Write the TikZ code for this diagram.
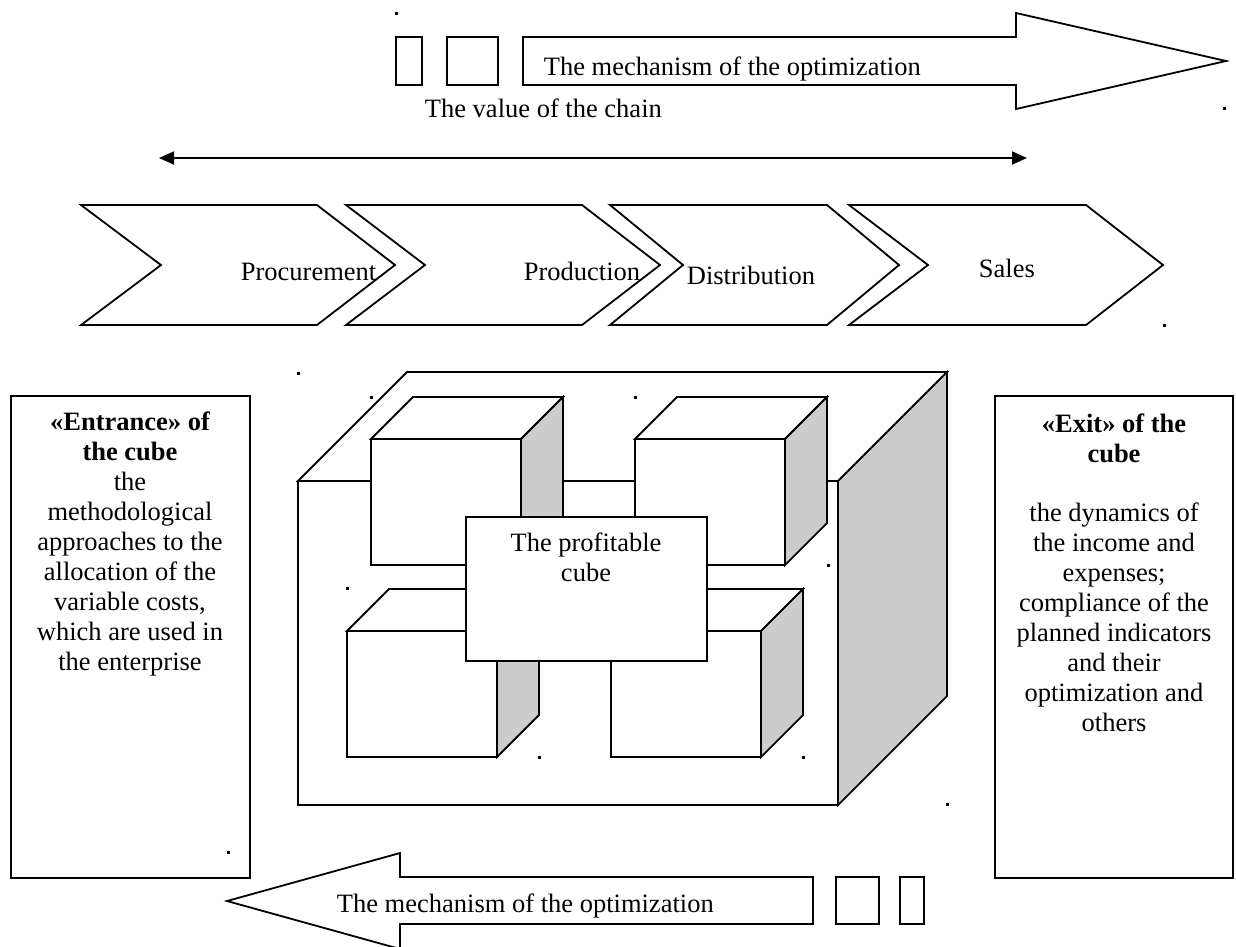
\documentclass[tikz,border=0pt]{standalone}
\usepackage{fontspec}
\setmainfont{Liberation Serif}
\usetikzlibrary{arrows.meta}
\begin{document}
\begin{tikzpicture}[x=1pt,y=-1pt, line width=1.8pt, line join=miter,
  shp/.style={draw=black, fill=white},
  sidefc/.style={draw=black, fill=gray!40},
  txt/.style={font=\fontsize{26.5}{30}\selectfont, inner sep=0pt},
  boxtxt/.style={txt, align=center, anchor=north},
  dotm/.style={fill=black}
]
\useasboundingbox (0,0) rectangle (1236,946);
% ---------- top arrow ----------
\draw[shp] (396,37) rectangle (422,85);
\draw[shp] (447,37) rectangle (498,85);
\draw[shp] (523,37) -- (1016,37) -- (1016,13) -- (1226,61) -- (1016,109) -- (1016,85) -- (523,85) -- cycle;
\node[txt, anchor=base west] (mechtop) at (543,75) {The mechanism of the optimization};
\node[txt, anchor=base west] (valchain) at (424,117) {The value of the chain};
% ---------- double arrow ----------
\coordinate (vl) at (159,158);
\coordinate (vr) at (1027,158);
\draw[line width=1.8pt, {Triangle[length=15pt,width=13pt]}-{Triangle[length=15pt,width=13pt]}] (vl) -- (vr);
% ---------- chevrons ----------
\draw[shp] (81,205) -- (317,205) -- (395,265) -- (317,325) -- (81,325) -- (161,265) -- cycle;
\draw[shp] (346,205) -- (582,205) -- (660,265) -- (582,325) -- (346,325) -- (425,265) -- cycle;
\draw[shp] (610,205) -- (827,205) -- (899,265) -- (827,325) -- (610,325) -- (683,265) -- cycle;
\draw[shp] (849,205) -- (1086,205) -- (1163,265) -- (1086,325) -- (849,325) -- (928,265) -- cycle;
\node[txt, anchor=base west] (proc) at (240,280) {Procurement};
\node[txt, anchor=base west] (prod) at (523,280) {Production};
\node[txt, anchor=base west] (dist) at (686,284) {Distribution};
\node[txt, anchor=base west] (sales) at (978,277) {Sales};
% ---------- big cube ----------
\draw[shp] (298,481) -- (407,372) -- (947,372) -- (838,481) -- cycle;
\draw[sidefc] (838,481) -- (947,372) -- (947,696) -- (838,805) -- cycle;
\draw[shp] (298,481) rectangle (838,805);
% ---------- small cubes ----------
% top-left
\draw[shp] (371,439) -- (413,397) -- (563,397) -- (521,439) -- cycle;
\draw[sidefc] (521,439) -- (563,397) -- (563,523) -- (521,565) -- cycle;
\draw[shp] (371,439) rectangle (521,565);
% top-right
\draw[shp] (635,439) -- (677,397) -- (827,397) -- (785,439) -- cycle;
\draw[sidefc] (785,439) -- (827,397) -- (827,523) -- (785,565) -- cycle;
\draw[shp] (635,439) rectangle (785,565);
% bottom-left
\draw[shp] (347,631) -- (389,589) -- (539,589) -- (497,631) -- cycle;
\draw[sidefc] (497,631) -- (539,589) -- (539,715) -- (497,757) -- cycle;
\draw[shp] (347,631) rectangle (497,757);
% bottom-right
\draw[shp] (611,631) -- (653,589) -- (803,589) -- (761,631) -- cycle;
\draw[sidefc] (761,631) -- (803,589) -- (803,715) -- (761,757) -- cycle;
\draw[shp] (611,631) rectangle (761,757);
% profitable box
\draw[shp] (466,517) rectangle (707,661);
\node[boxtxt] (profit) at (586,532) {The profitable\\cube};
% ---------- side boxes ----------
\draw[shp] (11,396) rectangle (250,878);
\node[boxtxt] (entr) at (130,411) {\bfseries «Entrance» of\\\bfseries the cube\\the\\methodological\\approaches to the\\allocation of the\\variable costs,\\which are used in\\the enterprise};
\draw[shp] (995,396) rectangle (1233,878);
\node[boxtxt] (exit) at (1114,413) {\bfseries «Exit» of the\\\bfseries cube\\[29pt]the dynamics of\\the income and\\expenses;\\compliance of the\\planned indicators\\and their\\optimization and\\others};
% ---------- bottom arrow ----------
\draw[shp] (813,877) -- (400,877) -- (400,853) -- (227,901) -- (400,949) -- (400,924) -- (813,924) -- cycle;
\draw[shp] (836,877) rectangle (879,924);
\draw[shp] (900,877) rectangle (924,924);
\node[txt, anchor=base west] (mechbot) at (336,912) {The mechanism of the optimization};
% ---------- stray dots ----------
\foreach \p in {(396,13),(1224,108),(1164,325),(298,373),(371,397),(635,397),(347,588),(828,565),(803,757),(947,804),(539,757),(228,852)}
  \fill[dotm] \p ++(-1.5,-1.5) rectangle ++(3,3);
\end{tikzpicture}
\end{document}
